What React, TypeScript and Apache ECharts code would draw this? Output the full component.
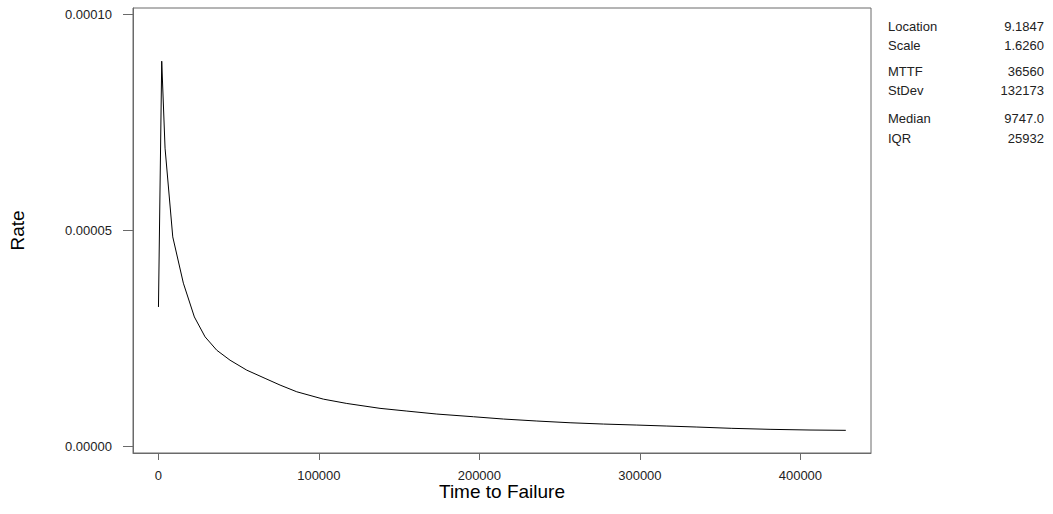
import React, { useEffect, useRef } from "react";
import * as echarts from "echarts";

// Time to failure (x) and hazard rate (y)
const times = [60, 2100, 4170, 8970, 15580, 22430, 29100, 36390, 44670, 55080, 66480, 75830, 86230, 102800, 117400, 138100, 154800, 173500, 196300, 215000, 235800, 256500, 277300, 298100, 316800, 335500, 357300, 381100, 406000, 428300];
const rates = [3.23e-5, 8.91e-5, 6.9e-5, 4.85e-5, 3.78e-5, 3.0e-5, 2.54e-5, 2.23e-5, 2.0e-5, 1.77e-5, 1.58e-5, 1.425e-5, 1.27e-5, 1.1e-5, 1.0e-5, 8.87e-6, 8.24e-6, 7.55e-6, 6.93e-6, 6.4e-6, 5.94e-6, 5.54e-6, 5.24e-6, 5.01e-6, 4.78e-6, 4.55e-6, 4.25e-6, 4.02e-6, 3.86e-6, 3.79e-6];

const xTicks = [0, 100000, 200000, 300000, 400000];
const yTicks = [0, 0.00005, 0.0001];

const statLabels = ["Location", "Scale", "MTTF", "StDev", "Median", "IQR"];
const statValues = ["9.1847", "1.6260", "36560", "132173", "9747.0", "25932"];
const statY = [27, 46, 72, 91, 119, 139];

export default function App() {
  const ref = useRef<HTMLDivElement>(null);
  useEffect(() => {
    if (!ref.current) return;
    const chart = echarts.init(ref.current, null, { renderer: "svg" });
    const font = "Liberation Sans, Arial, sans-serif";
    const graphics: any[] = [];
    statLabels.forEach((l, i) => {
      graphics.push({
        type: "text",
        left: 888,
        top: statY[i] - 7,
        style: { text: l, font: `13px ${font}`, fill: "#222" },
      });
      graphics.push({
        type: "text",
        right: 1053 - 1044,
        top: statY[i] - 7,
        style: { text: statValues[i], font: `13px ${font}`, fill: "#222", align: "right" },
      });
    });
    chart.setOption({
      animation: false,
      backgroundColor: "#fff",
      grid: {
        left: 133,
        top: 8,
        width: 738,
        height: 445,
        show: true,
        borderColor: "#6a6a6a",
        borderWidth: 1,
      },
      xAxis: {
        type: "value",
        min: -15800,
        max: 444000,
        name: "Time to Failure",
        nameLocation: "middle",
        nameGap: 29,
        nameMoveOverlap: false,
        nameTextStyle: { fontSize: 19, fontFamily: font, color: "#000", verticalAlign: "top" },
        axisLine: { show: true, onZero: false, lineStyle: { color: "#6a6a6a" } },
        axisTick: { show: true, length: 7, customValues: xTicks, lineStyle: { color: "#6a6a6a" } },
        axisLabel: {
          customValues: xTicks,
          margin: 16,
          fontSize: 13,
          fontFamily: font,
          color: "#222",
          formatter: (v: number) => String(v),
        },
        splitLine: { show: false },
      },
      yAxis: {
        type: "value",
        min: -1.45e-6,
        max: 1.014e-4,
        name: "Rate",
        nameLocation: "middle",
        nameGap: 106,
        nameMoveOverlap: false,
        nameTextStyle: { fontSize: 19, fontFamily: font, color: "#000" },
        axisLine: { show: true, onZero: false, lineStyle: { color: "#6a6a6a" } },
        axisTick: { show: true, length: 10, customValues: yTicks, lineStyle: { color: "#6a6a6a" } },
        axisLabel: {
          customValues: yTicks,
          margin: 21,
          fontSize: 13,
          fontFamily: font,
          color: "#222",
          formatter: (v: number) => v.toFixed(5),
        },
        splitLine: { show: false },
      },
      graphic: graphics,
      series: [
        {
          type: "line",
          data: times.map((t, i) => [t, rates[i]]),
          showSymbol: false,
          symbol: "none",
          lineStyle: { color: "#000", width: 1 },
        },
      ],
    });
    return () => chart.dispose();
  }, []);
  return (
    <div
      ref={ref}
      style={{ position: "fixed", left: 0, top: 0, width: 1053, height: 514, background: "#fff" }}
    />
  );
}
